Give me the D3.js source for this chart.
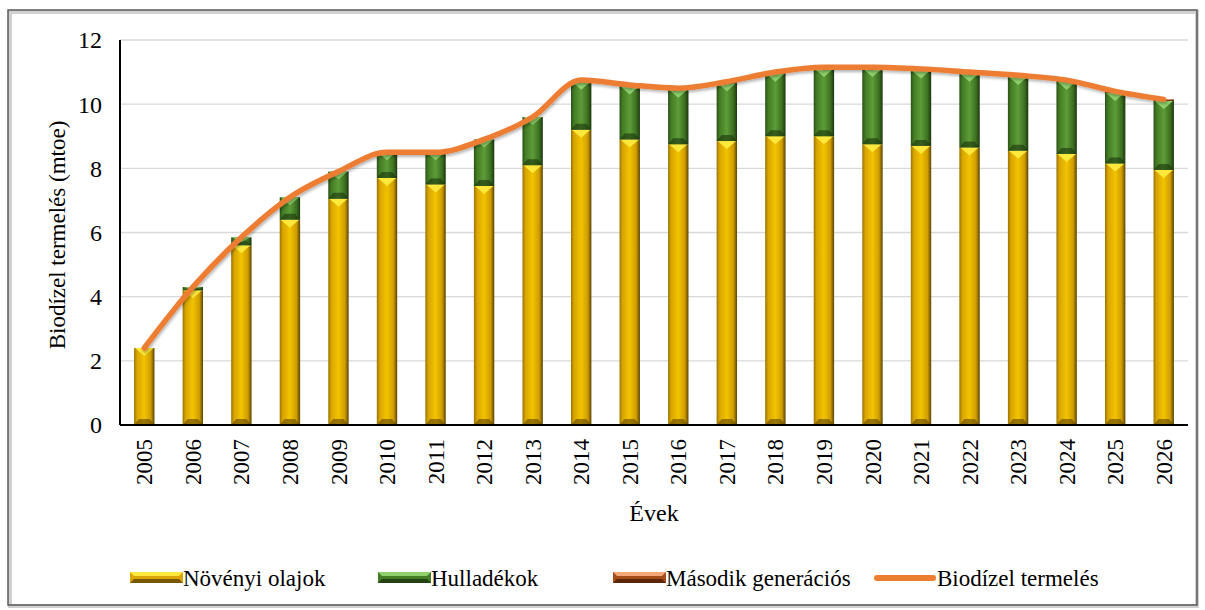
<!DOCTYPE html>
<html lang="hu">
<head>
    <meta charset="UTF-8">
    <title>biodizel-termeles</title>
    <script src="https://cdn.jsdelivr.net/npm/d3@7/dist/d3.min.js"></script>
    <style>
        body { margin: 0; background: #fff; }
        svg text { font-family: "Liberation Serif", "Times New Roman", serif; fill: #000; }
    </style>
</head>
<body>
    <svg class="chart"></svg>
</body>
<script>
    // data
    var years = ['2005', '2006', '2007', '2008', '2009', '2010', '2011', '2012', '2013', '2014', '2015',
        '2016', '2017', '2018', '2019', '2020', '2021', '2022', '2023', '2024', '2025', '2026'];
    var novenyi = [2.4, 4.2, 5.6, 6.4, 7.05, 7.7, 7.5, 7.45, 8.1, 9.2, 8.9,
        8.75, 8.85, 9.0, 9.0, 8.75, 8.7, 8.65, 8.55, 8.45, 8.15, 7.95];
    var hulladek = [0, 0.1, 0.25, 0.7, 0.85, 0.8, 1.0, 1.45, 1.5, 1.5, 1.65,
        1.7, 1.8, 1.95, 2.1, 2.35, 2.35, 2.3, 2.3, 2.25, 2.2, 2.15];
    var masodik = [0, 0, 0, 0, 0, 0, 0, 0, 0, 0.05, 0.05,
        0.05, 0.05, 0.05, 0.05, 0.05, 0.05, 0.05, 0.05, 0.05, 0.05, 0.05];
    var osszes = [2.4, 4.3, 5.85, 7.1, 7.9, 8.5, 8.5, 8.9, 9.6, 10.75, 10.6,
        10.5, 10.7, 11.0, 11.15, 11.15, 11.1, 11.0, 10.9, 10.75, 10.4, 10.15];
    var yTicks = [0, 2, 4, 6, 8, 10, 12];
    var seriesNames = ['Növényi olajok', 'Hulladékok', 'Második generációs', 'Biodízel termelés'];

    var W = 1205, H = 610;
    var mLeft = 120, mRight = 1188, mTop = 40, mBottom = 425;
    var serif = '"Liberation Serif", "Times New Roman", serif';

    var svg = d3.select('.chart').attr('width', W).attr('height', H)
        .attr('font-family', serif);
    var defs = svg.append('defs');

    // bevel look for the bars
    var looks = [
        { id: 'gYellow', stops: ['#9a7400', '#d9a500', '#f2c300', '#cf9d00', '#5a4300'], cap: '#ffe83c', base: '#5e4500' },
        { id: 'gGreen', stops: ['#2a5216', '#447c25', '#5d9c38', '#3d7021', '#1c370e'], cap: '#8fd06c', base: '#1a330c' },
        { id: 'gBrown', stops: ['#6d2c0b', '#a44d1b', '#c8662e', '#a04a18', '#4e1f06'], cap: '#f4a678', base: '#4a1c05' }
    ];
    looks.forEach(function (l) {
        var g = defs.append('linearGradient').attr('id', l.id)
            .attr('x1', '0%').attr('x2', '100%').attr('y1', '0%').attr('y2', '0%');
        [0, 0.15, 0.5, 0.82, 1].forEach(function (o, i) {
            g.append('stop').attr('offset', o).attr('stop-color', l.stops[i]);
        });
    });
    var shadow = defs.append('filter').attr('id', 'shadow').attr('x', '-5%').attr('y', '-20%')
        .attr('width', '110%').attr('height', '140%');
    shadow.append('feDropShadow').attr('dx', 1).attr('dy', 2).attr('stdDeviation', 1.5)
        .attr('flood-color', '#000').attr('flood-opacity', 0.3);

    // outer frame
    svg.append('rect').attr('x', 10).attr('y', 12).attr('width', 1187).attr('height', 594)
        .attr('fill', 'none').attr('stroke', '#d0d0d0').attr('stroke-width', 4);
    svg.append('rect').attr('x', 8).attr('y', 10).attr('width', 1189).attr('height', 595)
        .attr('fill', 'none').attr('stroke', '#595959').attr('stroke-width', 1.5);

    // scales
    var x = d3.scaleBand().domain(years).range([mLeft, mRight]).paddingInner(0.58).paddingOuter(0.29);
    var y = d3.scaleLinear().domain([0, 12]).range([mBottom, mTop]);

    // grid
    svg.append('g').selectAll('line').data(yTicks.slice(1)).enter().append('line')
        .attr('x1', mLeft).attr('x2', mRight)
        .attr('y1', function (d) { return y(d); }).attr('y2', function (d) { return y(d); })
        .attr('stroke', '#d9d9d9').attr('stroke-width', 1.3);

    // stacked bars
    var rows = years.map(function (yr, i) {
        return { year: yr, novenyi: novenyi[i], hulladek: hulladek[i], masodik: masodik[i] };
    });
    var stack = d3.stack().keys(['novenyi', 'hulladek', 'masodik'])(rows);

    var bw = x.bandwidth();
    stack.forEach(function (layer, k) {
        var look = looks[k];
        var g = svg.append('g');
        var seg = g.selectAll('g').data(layer.filter(function (d) { return d[1] - d[0] > 0.001; }))
            .enter().append('g')
            .attr('transform', function (d) { return 'translate(' + x(d.data.year) + ',0)'; });
        seg.append('rect')
            .attr('x', 0).attr('width', bw)
            .attr('y', function (d) { return y(d[1]); })
            .attr('height', function (d) { return y(d[0]) - y(d[1]); })
            .attr('fill', 'url(#' + look.id + ')');
        // bottom bevel
        seg.append('path')
            .attr('d', function (d) {
                var b = y(d[0]), h = Math.min(6, (y(d[0]) - y(d[1])) / 2);
                return 'M0,' + b + 'L' + bw + ',' + b + 'L' + (bw - 5) + ',' + (b - h) + 'L5,' + (b - h) + 'Z';
            })
            .attr('fill', look.base).attr('opacity', 0.6);
        // top bevel triangle
        seg.append('path')
            .attr('d', function (d) {
                var t = y(d[1]), h = Math.min(8, (y(d[0]) - y(d[1])) * 0.6);
                return 'M1,' + t + 'L' + (bw - 1) + ',' + t + 'L' + (bw / 2) + ',' + (t + h) + 'Z';
            })
            .attr('fill', look.cap);
    });

    // total line
    var line = d3.line()
        .x(function (d, i) { return x(years[i]) + bw / 2; })
        .y(function (d) { return y(d); })
        .curve(d3.curveMonotoneX);
    svg.append('path').datum(osszes)
        .attr('d', line)
        .attr('fill', 'none').attr('stroke', '#ed7d31').attr('stroke-width', 5.5)
        .attr('stroke-linecap', 'round').attr('filter', 'url(#shadow)');

    // axes
    svg.append('line').attr('x1', mLeft).attr('x2', mLeft).attr('y1', mTop).attr('y2', mBottom)
        .attr('stroke', '#000').attr('stroke-width', 2);
    svg.append('line').attr('x1', mLeft).attr('x2', mRight).attr('y1', mBottom).attr('y2', mBottom)
        .attr('stroke', '#000').attr('stroke-width', 2);

    svg.append('g').selectAll('text').data(yTicks).enter().append('text')
        .attr('x', 102).attr('y', function (d) { return y(d); }).attr('dy', '0.35em')
        .attr('text-anchor', 'end').style('font-size', '24px')
        .text(function (d) { return d; });

    svg.append('g').selectAll('text').data(years).enter().append('text')
        .attr('transform', function (d) {
            return 'translate(' + (x(d) + bw / 2) + ',439) rotate(-90)';
        })
        .attr('dy', '0.35em').attr('text-anchor', 'end').style('font-size', '23px')
        .text(function (d) { return d; });

    svg.append('text').attr('transform', 'translate(57,235) rotate(-90)')
        .attr('text-anchor', 'middle').attr('dy', '0.35em').style('font-size', '23px')
        .text('Biodízel termelés (mtoe)');

    svg.append('text').attr('x', 654).attr('y', 513).attr('dy', '0.35em')
        .attr('text-anchor', 'middle').style('font-size', '24px').text('Évek');

    // legend
    var legendX = [130, 378, 613, 875];
    var lg = svg.append('g').selectAll('g').data(seriesNames).enter().append('g')
        .attr('transform', function (d, i) { return 'translate(' + legendX[i] + ',578)'; });
    lg.each(function (d, i) {
        var g = d3.select(this);
        if (i < 3) {
            var look = looks[i];
            g.append('rect').attr('x', 0).attr('y', -6).attr('width', 53).attr('height', 11)
                .attr('fill', look.stops[1]);
            g.append('path').attr('d', 'M0,-6L53,-6L49,-2L4,-2Z').attr('fill', look.cap);
            g.append('path').attr('d', 'M0,5L53,5L49,1L4,1Z').attr('fill', look.base).attr('opacity', 0.8);
            g.append('text').attr('x', 53).attr('dy', '0.35em').style('font-size', '23px').text(d);
        } else {
            g.append('line').attr('x1', 2).attr('x2', 58).attr('y1', 0).attr('y2', 0)
                .attr('stroke', '#ed7d31').attr('stroke-width', 6).attr('stroke-linecap', 'round');
            g.append('text').attr('x', 62).attr('dy', '0.35em').style('font-size', '23px').text(d);
        }
    });
</script>
</html>
